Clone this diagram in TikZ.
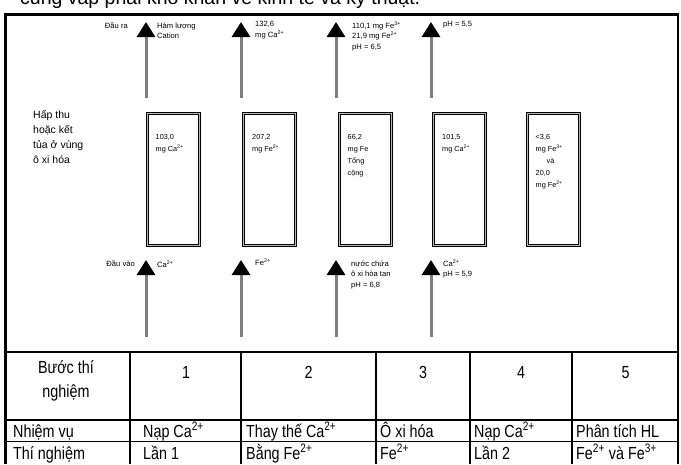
\documentclass[tikz,border=0pt]{standalone}
\usepackage{fontspec}
\setmainfont{Liberation Sans}
\newfontfamily\tabfont{Liberation Sans}[FakeStretch=0.82]
\usetikzlibrary{positioning}
\usetikzlibrary{arrows.meta}

\tikzset{
  flow/.style={draw=gray, line width=3pt, -{Triangle[width=18pt,length=15pt,black]}},
  zone/.style={draw=black, line width=1pt, double=gray!55, double distance=1pt,
    minimum width=52pt, minimum height=132pt, inner sep=0pt},
  lbl/.style={font=\fontsize{7.6}{10.5}\selectfont, align=left, inner sep=0pt},
  zonetxt/.style={font=\fontsize{7.3}{12}\selectfont, align=left, inner sep=0pt},
  cell/.style={font=\tabfont\fontsize{17.5}{24}\selectfont, inner sep=0pt},
}

\begin{document}
\begin{tikzpicture}[x=1pt,y=-1pt]
\useasboundingbox (0,0) rectangle (681,464);

%line of the running text, cut by the page edge
\node[anchor=base west, inner sep=0pt, font=\fontsize{19.5}{22}\selectfont] (intro) at (20,4) {cũng vấp phải khó khăn về kinh tế và kỹ thuật.};

%outer frame
\draw[line width=2.5pt] (5.5,464) -- (5.5,14.5) -- (678,14.5) -- (678,464);

%arrows in and out
\foreach \i/\x in {1/146,2/241,3/336,4/431}{
  \coordinate (outS\i) at (\x,98);
  \coordinate (outE\i) at (\x,22);
  \coordinate (inS\i) at (\x,337);
  \coordinate (inE\i) at (\x,260);
  \draw[flow] (outS\i) -- (outE\i);
  \draw[flow] (inS\i) -- (inE\i);
}

%zones
\foreach \i/\x in {1/173.5,2/269.5,3/365,4/459.5,5/553.5}{
  \node[zone] (zone\i) at (\x,179.5) {};
}
\node[zonetxt, anchor=north west, below right=21pt and 8.5pt of zone1.north west] (ztxt1) {103,0\\mg Ca\textsuperscript{2+}};
\node[zonetxt, anchor=north west, below right=21pt and 9pt of zone2.north west] (ztxt2) {207,2\\mg Fe\textsuperscript{2+}};
\node[zonetxt, anchor=north west, below right=21pt and 9pt of zone3.north west] (ztxt3) {66,2\\mg Fe\\Tổng\\cộng};
\node[zonetxt, anchor=north west, below right=21pt and 9pt of zone4.north west] (ztxt4) {101,5\\mg Ca\textsuperscript{2+}};
\node[zonetxt, anchor=north west, below right=21pt and 8.5pt of zone5.north west] (ztxt5) {<3,6\\mg Fe\textsuperscript{3+}\\\hspace*{11pt}và\\20,0\\mg Fe\textsuperscript{2+}};

%labels of the outputs
\node[lbl, anchor=north east] (outlbl) at (128,22.5) {Đầu ra};
\node[lbl, anchor=north west] (out1) at (157,22.5) {Hàm lượng\\Cation};
\node[lbl, anchor=north west] (out2) at (255,21) {132,6\\mg Ca\textsuperscript{2+}};
\node[lbl, anchor=north west] (out3) at (352,21.5) {110,1 mg Fe\textsuperscript{3+}\\21,9 mg Fe\textsuperscript{2+}\\pH = 6,5};
\node[lbl, anchor=north west] (out4) at (443,21.5) {pH = 5,5};

%labels of the inputs
\node[lbl, anchor=north east] (inlbl) at (135,260.5) {Đầu vào};
\node[lbl, anchor=north west] (in1) at (157,260.5) {Ca\textsuperscript{2+}};
\node[lbl, anchor=north west] (in2) at (255,259) {Fe\textsuperscript{2+}};
\node[lbl, anchor=north west] (in3) at (351,260.5) {nước chứa\\ô xi hòa tan\\pH = 6,8};
\node[lbl, anchor=north west] (in4) at (443,259.5) {Ca\textsuperscript{2+}\\pH = 5,9};

\node[anchor=north west, inner sep=0pt, align=left, font=\fontsize{10.5}{15}\selectfont] (zonelbl) at (33,110) {Hấp thu\\hoặc kết\\tủa ở vùng\\ô xi hóa};

%table
\draw[line width=2pt] (5.5,352) -- (678,352);
\draw[line width=1.5pt] (5.5,420) -- (678,420);
\draw[line width=1.5pt] (5.5,441.5) -- (678,441.5);
\foreach \x in {130,241,376,470,572}{
  \draw[line width=1.5pt] (\x,352) -- (\x,464);
}

\node[cell, anchor=north, align=center] (step) at (66,360) {Bước thí\\nghiệm};
\foreach \n/\x in {1/186,2/308.5,3/423,4/521,5/625.5}{
  \node[cell, anchor=base] (step\n) at (\x,378) {\n};
}
\node[cell, anchor=base west] (task) at (13,437) {Nhiệm vụ};
\node[cell, anchor=base west] (task1) at (143,437) {Nạp Ca\textsuperscript{2+}};
\node[cell, anchor=base west] (task2) at (246,437) {Thay thế Ca\textsuperscript{2+}};
\node[cell, anchor=base west] (task3) at (380,437) {Ô xi hóa};
\node[cell, anchor=base west] (task4) at (474,437) {Nạp Ca\textsuperscript{2+}};
\node[cell, anchor=base west] (task5) at (576,437) {Phân tích HL};
\node[cell, anchor=base west] (test) at (13,459) {Thí nghiệm};
\node[cell, anchor=base west] (test1) at (143,459) {Lần 1};
\node[cell, anchor=base west] (test2) at (246,459) {Bằng Fe\textsuperscript{2+}};
\node[cell, anchor=base west] (test3) at (380,459) {Fe\textsuperscript{2+}};
\node[cell, anchor=base west] (test4) at (474,459) {Lần 2};
\node[cell, anchor=base west] (test5) at (576,459) {Fe\textsuperscript{2+} và Fe\textsuperscript{3+}};
\end{tikzpicture}
\end{document}
